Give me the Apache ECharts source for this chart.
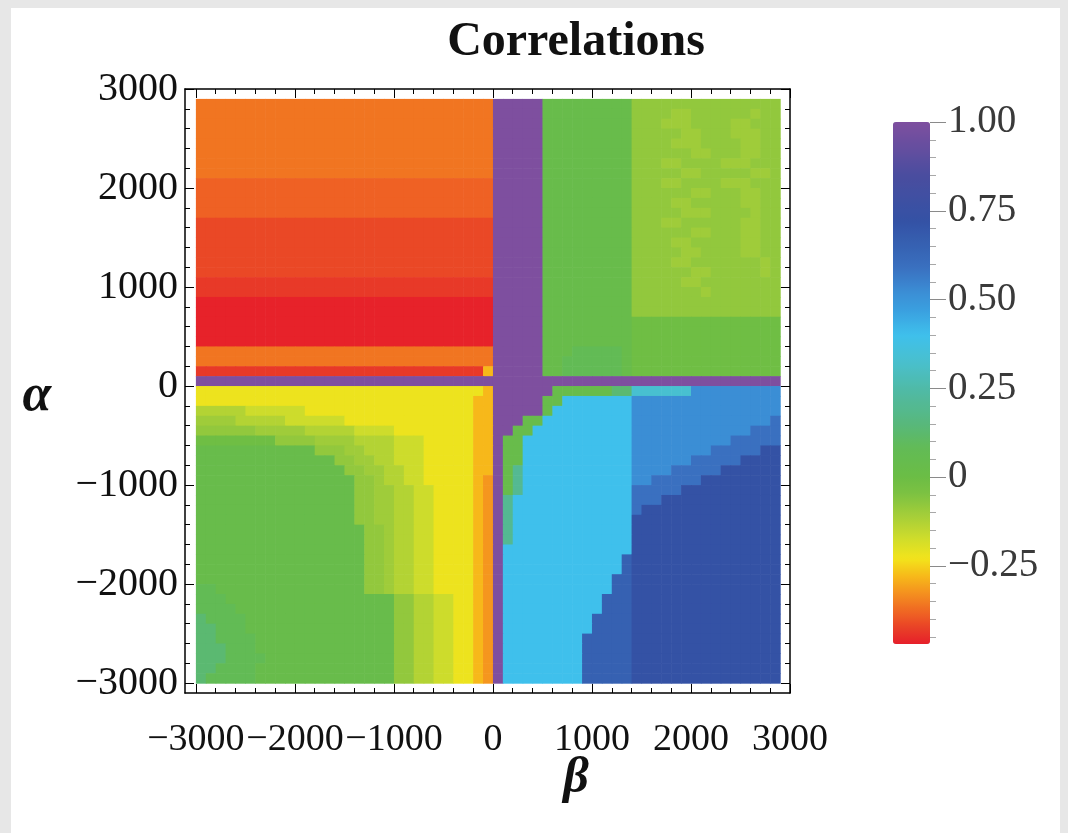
<!DOCTYPE html>
<html>
<head>
<meta charset="utf-8">
<script src="https://cdn.jsdelivr.net/npm/echarts@6/dist/echarts.min.js"></script>
<style>
html,body{margin:0;padding:0;background:#e7e7e7;width:1068px;height:833px;overflow:hidden;}
#panel{position:absolute;left:11px;top:8px;width:1049px;height:825px;background:#ffffff;}
#chart{position:absolute;left:0;top:0;width:1068px;height:833px;}
</style>
</head>
<body>
<div id="panel"></div>
<div id="chart"></div>
<script>
// ---------------- DATA ----------------
// grid of cells: beta (x) from -3000 in steps of 100, alpha (y) rows from 2900 downwards
const betaStart = -3000;
const alphaTop = 2900;
const cellStep = 100;

// correlation level codes and their values (read against the colour bar)
const levelCodes  = ['P','D','M','N','B','C','c','T','t','u','G','g','H','h','K','k','Y','A','O','Q','q','R','r','X'];
const levelValues = [1.00,0.72,0.65,0.59,0.52,0.40,0.33,0.20,0.13,0.08,0.03,-0.01,-0.08,-0.10,-0.13,-0.17,-0.22,-0.28,-0.32,-0.36,-0.385,-0.415,-0.435,-0.465];

// one run-length string per alpha row (top row first), 59 cells per row
const rowRuns = [
  "Q30P5G9H15",
  "Q30P5G9H4h2H6h1H2",
  "Q30P5G9H3h3H4h2H3",
  "Q30P5G9H5h2H3h3H2",
  "Q30P5G9H4h3H4h2H2",
  "Q30P5G9H6h2H3h2H2",
  "Q30P5G9H3h2H4h3H3",
  "Q30P5G9H5h2H5h2H1",
  "q30P5G9H3h2H4h3H3",
  "q30P5G9H6h2H3h2H2",
  "q30P5G9H4h2H5h2H2",
  "q30P5G9H5h3H4h1H2",
  "R30P5G9H3h2H6h2H2",
  "R30P5G9H6h2H3h2H2",
  "R30P5G9H4h2H5h2H2",
  "R30P5G9H5h2H4h2H2",
  "R30P5G9H4h2H7h1H1",
  "R30P5G9H6h2H5h1H1",
  "r30P5G9H5h2H8",
  "r30P5G9H7h1H7",
  "X30P5G9H15",
  "X30P5G9H15",
  "X30P5G9g15",
  "X30P5G9g15",
  "X30P5G9g15",
  "Q30P5G3u5G1g15",
  "Q30P5G2u6G1g15",
  "r29A1P5G2u6G1g15",
  "P59",
  "Y29A1P6G6t2c6B9",
  "Y28A2P5G2C7B15",
  "K5k6Y17A2P5G1C8B15",
  "h4K5k6Y13A2P3G2C9B14N1",
  "H6h5K5k4Y8A2P2G2C10B12N3",
  "g8H4h4K4k3Y5A2P1G2C11B10N5",
  "G12H3h2K3k3Y5A2P1G2C11B8N5D2",
  "G14H2h2K2k3Y5A2P1G2C11B6N5D4",
  "G15H2h2K2k2Y5A2P1G1T1C11B4N5D6",
  "G16H2h1K2k2Y5A1O1P1G1T1C11B2N5D8",
  "G16H2h2K2k2Y4A1O1P1G1T1C11N5D10",
  "G16H2h2K2k2Y4A1O1P1T1C12N3D12",
  "G16H2h2K2k2Y4A1O1P1T1C12N1D14",
  "G16H2h2K2k2Y4A1O1P1T1C12D15",
  "G17H2h1K2k2Y4A1O1P1T1C12D15",
  "G17H2h1K2k2Y4A1O1P1T1C12D15",
  "G17H2h1K2k2Y4A1O1P1C13D15",
  "G17H2h1K2k2Y4A1O1P1C12M1D15",
  "G17H2h1K2k2Y4A1O1P1C12M1D15",
  "G17H2h1K2k2Y4A1O1P1C11M2D15",
  "u2G15H2h1K2k2Y4A1O1P1C11M2D15",
  "u3G17H2K2k2Y2A1O1P1C10M3D15",
  "u4G16H2K2k2Y2A1O1P1C10M3D15",
  "t1u4G15H2K2k2Y2A1O1P1C9M4D15",
  "t2u3G15H2K2k2Y2A1O1P1C9M4D15",
  "t2u4G14H2K2k2Y2A1O1P1C8M5D15",
  "t3u3G14H2K2k2Y2A1O1P1C8M5D15",
  "t3u4G13H2K2k2Y2A1O1P1C8M5D15",
  "t2u4G14H2K2k2Y2A1O1P1C8M5D15",
  "t1u5G14H2K2k2Y2A1O1P1C8M5D15"
];

// axis tick labels
const xMajorTicks = [-3000,-2000,-1000,0,1000,2000,3000];
const yMajorTicks = [-3000,-2000,-1000,0,1000,2000,3000];
const barMajorTicks = [-0.25,0,0.25,0.5,0.75,1.0];
const barMin = -0.47, barMax = 1.0;

// colour scale stops (value, colour) sampled from the colour bar
const rampValues = [-0.47,-0.42,-0.38,-0.33,-0.28,-0.23,-0.17,-0.10,-0.05,0.00,0.08,0.15,0.25,0.33,0.40,0.47,0.52,0.59,0.65,0.72,0.85,1.00];
const rampColors = ['#e61f2a','#e94426','#ef6523','#f48e1f','#f7b81a','#f3e41b','#cddc2c','#9fcc3a','#7ec241','#6bbd45','#62bb55','#58b87c','#4fbaa8','#48c0d0','#3fc0ec','#3a9fdf','#3b8ed5','#3a70c0','#3661b2','#3452a5','#4a4d9f','#7e4f9f'];

// ---------------- build series data ----------------
const data = [];
rowRuns.forEach((runStr, r) => {
  const cells = [];
  runStr.replace(/([A-Za-z])(\d+)/g, (m, code, n) => {
    for (let i = 0; i < +n; i++) cells.push(code);
    return m;
  });
  const alphaLow = alphaTop - cellStep * (r + 1);
  cells.forEach((code, k) => {
    const idx = levelCodes.indexOf(code);
    data.push([betaStart + cellStep * k, alphaLow, levelValues[idx]]);
  });
});

// colour list for the visualMap (linear RGB ramp through the stops)
function hex2rgb(h){return [parseInt(h.slice(1,3),16),parseInt(h.slice(3,5),16),parseInt(h.slice(5,7),16)];}
const rampN = 148;
const colorList = [];
for (let i = 0; i < rampN; i++) {
  const v = barMin + (barMax - barMin) * i / (rampN - 1);
  let j = 0;
  while (j < rampValues.length - 2 && v > rampValues[j + 1]) j++;
  const t = Math.max(0, Math.min(1, (v - rampValues[j]) / (rampValues[j + 1] - rampValues[j])));
  const a = hex2rgb(rampColors[j]), b = hex2rgb(rampColors[j + 1]);
  const c = a.map((x, q) => Math.round(x + (b[q] - x) * t));
  colorList.push('rgb(' + c.join(',') + ')');
}

// minor ticks
const xMinorTicks = [];
for (let v = -3000; v <= 3000; v += 200) if (v % 1000 !== 0) xMinorTicks.push(v);
const yMinorTicks = xMinorTicks.slice();
const barMinorTicks = [];
for (let i = -9; i <= 19; i++) if (i % 5 !== 0) barMinorTicks.push(+(i * 0.05).toFixed(2));

// ---------------- chart ----------------
const serif = '"Liberation Serif", "Times New Roman", serif';
const minus = v => (v < 0 ? '\u2212' + Math.abs(v) : String(v));
const barFmt = v => (Math.abs(v) < 1e-9 ? '0' : (v < 0 ? '\u2212' : '') + Math.abs(v).toFixed(2));

function frameAxis(extra) {
  return Object.assign({
    type: 'value', gridIndex: 0,
    splitLine: { show: false },
    axisLine: { show: false, onZero: false },
    axisLabel: { show: false },
    axisPointer: { show: false }
  }, extra);
}

const frameLine = { show: true, onZero: false, lineStyle: { color: '#000', width: 1.5 } };
const majTick = ticks => ({ show: true, inside: true, length: 9, customValues: ticks, lineStyle: { color: '#000', width: 1 } });
const minTick = ticks => ({ show: true, inside: true, length: 5, customValues: ticks, lineStyle: { color: '#000', width: 1 } });

const chart = echarts.init(document.getElementById('chart'), null, { renderer: 'canvas', width: 1068, height: 833 });
chart.setOption({
  animation: false,
  backgroundColor: 'transparent',
  grid: [
    { left: 185, top: 89, width: 605, height: 604 },
    { left: 893, top: 122, width: 37, height: 522 }
  ],
  xAxis: [
    frameAxis({ min: -3110, max: 3000, position: 'bottom', axisLine: frameLine, axisTick: majTick(xMajorTicks),
      axisLabel: { show: true, customValues: xMajorTicks, formatter: minus, margin: 28, hideOverlap: false, fontFamily: serif, fontSize: 38, color: '#111' } }),
    frameAxis({ min: -3110, max: 3000, position: 'bottom', axisTick: minTick(xMinorTicks) }),
    frameAxis({ min: -3110, max: 3000, position: 'top', axisLine: frameLine, axisTick: majTick(xMajorTicks) }),
    frameAxis({ min: -3110, max: 3000, position: 'top', axisTick: minTick(xMinorTicks) }),
    { type: 'value', gridIndex: 1, show: false }
  ],
  yAxis: [
    frameAxis({ min: -3100, max: 3000, position: 'left', axisLine: frameLine, axisTick: majTick(yMajorTicks),
      axisLabel: { show: true, customValues: yMajorTicks, formatter: minus, margin: 7, hideOverlap: false, fontFamily: serif, fontSize: 40, color: '#111' } }),
    frameAxis({ min: -3100, max: 3000, position: 'left', axisTick: minTick(yMinorTicks) }),
    frameAxis({ min: -3100, max: 3000, position: 'right', axisLine: frameLine, axisTick: majTick(yMajorTicks) }),
    frameAxis({ min: -3100, max: 3000, position: 'right', axisTick: minTick(yMinorTicks) }),
    { type: 'value', gridIndex: 1, min: barMin, max: barMax, position: 'right',
      splitLine: { show: false }, axisLine: { show: false, onZero: false },
      axisTick: { show: true, inside: false, length: 16, customValues: barMajorTicks, lineStyle: { color: '#8a8a8a', width: 1 } },
      axisLabel: { show: true, customValues: barMajorTicks, formatter: barFmt, margin: 18, hideOverlap: false, fontFamily: serif, fontSize: 39, color: '#3a3a3a' } },
    { type: 'value', gridIndex: 1, min: barMin, max: barMax, position: 'right',
      splitLine: { show: false }, axisLine: { show: false, onZero: false },
      axisTick: { show: true, inside: false, length: 6, customValues: barMinorTicks, lineStyle: { color: '#a8a8a8', width: 1 } },
      axisLabel: { show: false } }
  ],
  visualMap: {
    type: 'continuous', seriesIndex: 0, dimension: 2,
    min: barMin, max: barMax, calculable: false, orient: 'vertical',
    left: 893, top: 122, itemWidth: 37, itemHeight: 522, padding: 0,
    inRange: { color: colorList }, hoverLink: false
  },
  graphic: [
    { type: 'text', x: 576, y: 43, style: { text: 'Correlations', font: 'bold 48px "Liberation Serif"', fill: '#111', align: 'center', verticalAlign: 'middle' } },
    { type: 'text', x: 37, y: 397, style: { text: '\u03b1', font: 'italic bold 52px "Liberation Serif"', fill: '#111', align: 'center', verticalAlign: 'middle' } },
    { type: 'text', x: 576, y: 779, style: { text: '\u03b2', font: 'italic bold 50px "Liberation Serif"', fill: '#111', align: 'center', verticalAlign: 'middle' } }
  ],
  series: [{
    type: 'custom',
    coordinateSystem: 'cartesian2d', xAxisIndex: 0, yAxisIndex: 0,
    encode: { x: 0, y: 1 },
    progressive: 0,
    silent: true,
    data: data,
    renderItem: function (params, api) {
      const b = api.value(0), a = api.value(1);
      const p0 = api.coord([b, a + cellStep]);
      const p1 = api.coord([b + cellStep, a]);
      return {
        type: 'rect',
        shape: { x: p0[0], y: p0[1], width: p1[0] - p0[0] + 0.6, height: p1[1] - p0[1] + 0.6 },
        style: { fill: api.visual('color') }
      };
    }
  }]
});
</script>
</body>
</html>
